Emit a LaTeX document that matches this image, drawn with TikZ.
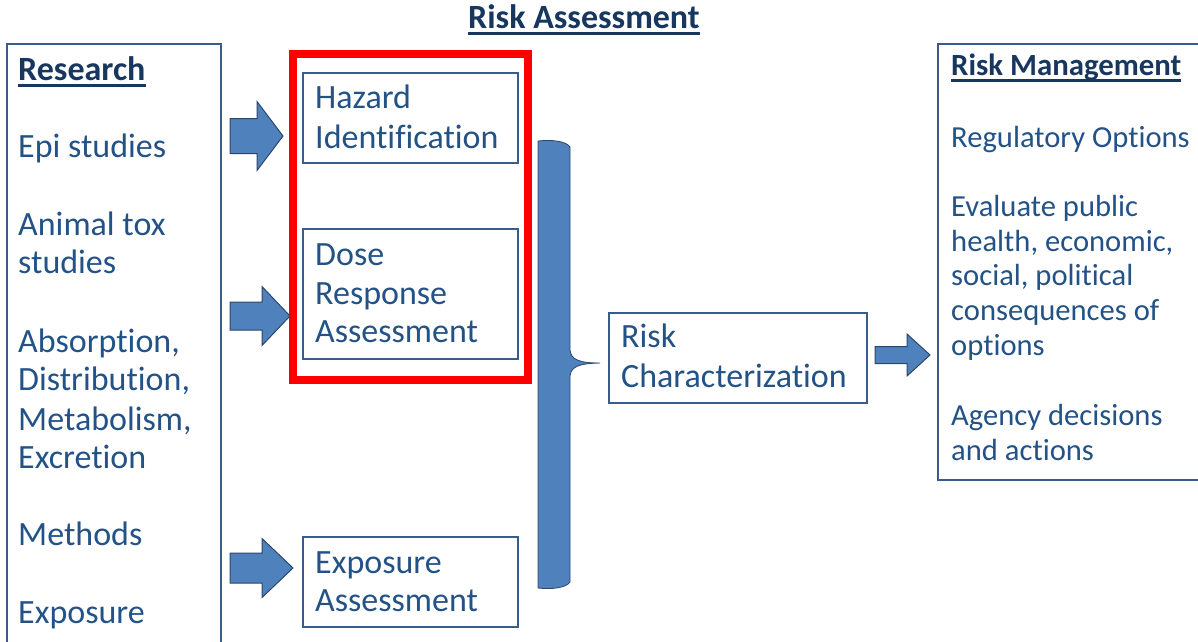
\documentclass[tikz,border=0pt]{standalone}
\usepackage{fontspec}
\setmainfont{Carlito}[Ligatures={NoCommon},RawFeature={-liga;-calt;-clig}]
\definecolor{bodytext}{RGB}{35,82,135}
\definecolor{headtext}{RGB}{23,55,94}
\definecolor{boxline}{RGB}{56,93,138}
\definecolor{arrfill}{RGB}{79,129,189}
\definecolor{arrline}{RGB}{44,70,105}
\definecolor{frame}{RGB}{255,0,0}
\newcommand{\ulhead}[1]{\setbox0\hbox{#1}\rlap{\rule[-6.5pt]{\wd0}{3pt}}\box0}
\newcommand{\blockarr}[6]{%
  \filldraw[blockarrow] (#1,#4-#5) -- (#2,#4-#5) -- (#2,#4-#6) -- (#3,#4) -- (#2,#4+#6) -- (#2,#4+#5) -- (#1,#4+#5) -- cycle;}
\tikzset{
  txt/.style={anchor=base west, inner sep=0pt, text=bodytext, font=\fontsize{34pt}{39pt}\selectfont},
  txtr/.style={anchor=base west, inner sep=0pt, text=bodytext, font=\fontsize{30.6pt}{35pt}\selectfont},
  headL/.style={anchor=base west, inner sep=0pt, text=headtext, font=\fontsize{34pt}{39pt}\selectfont\bfseries},
  headR/.style={anchor=base west, inner sep=0pt, text=headtext, font=\fontsize{30.8pt}{35pt}\selectfont\bfseries},
  stagebox/.style={draw=boxline, line width=1.5pt, rectangle, inner sep=0pt},
  blockarrow/.style={fill=arrfill, draw=arrline, line width=1pt, line join=miter},
}
\begin{document}
\begin{tikzpicture}[x=1pt,y=-1pt]
\useasboundingbox (0,0) rectangle (1198,641);

% title
\node[headL] (title) at (468,28.5) {\ulhead{Risk Assessment}};

% research column (open at the bottom)
\draw[boxline, line width=1.5pt] (7,642) -- (7,44) -- (221,44) -- (221,642);
\node[headL] (rhead) at (18,80.5) {\ulhead{Research}};
\node[txt] (r1) at (18,157.5) {Epi studies};
\node[txt] (r2a) at (18,235.5) {Animal tox};
\node[txt] (r2b) at (18,273.5) {studies};
\node[txt] (r3a) at (18,352.5) {Absorption,};
\node[txt] (r3b) at (18,390.5) {Distribution,};
\node[txt] (r3c) at (18,430) {Metabolism,};
\node[txt] (r3d) at (18,468.5) {Excretion};
\node[txt] (r4) at (18,545.5) {Methods};
\node[txt] (r5) at (18,623.5) {Exposure};

% red frame
\draw[frame, line width=8pt] (293,54) rectangle (528,380);

% stage boxes
\node[stagebox, minimum width=215pt, minimum height=90pt] (haz) at (410.5,118) {};
\node[txt] (haz1) at (315,108.5) {Hazard};
\node[txt] (haz2) at (315,148.5) {Identification};

\node[stagebox, minimum width=215pt, minimum height=130pt] (dose) at (410.5,294) {};
\node[txt] (dose1) at (315,265.5) {Dose};
\node[txt] (dose2) at (315,304) {Response};
\node[txt] (dose3) at (315,342.5) {Assessment};

\node[stagebox, minimum width=215pt, minimum height=90pt] (expo) at (410.5,582) {};
\node[txt] (expo1) at (315,573.5) {Exposure};
\node[txt] (expo2) at (315,611) {Assessment};

\node[stagebox, minimum width=258pt, minimum height=90pt] (rc) at (738,358) {};
\node[txt] (rc1) at (621,347.5) {Risk};
\node[txt] (rc2) at (621,387.5) {Characterization};

% brace
\filldraw[fill=arrfill, draw=arrline, line width=0.8pt]
  (538,141) .. controls (552,139.5) and (566,141) .. (570,147)
  -- (570,350) .. controls (571,360) and (580,363) .. (600,363)
  .. controls (580,363.5) and (571,366) .. (570,376)
  -- (570,582) .. controls (566,588) and (552,589.5) .. (538,588) -- cycle;

% block arrows
\blockarr{230}{257}{283}{136}{17.5}{34.5}
\blockarr{230}{262}{290}{316}{14}{29.5}
\blockarr{230}{262}{293}{568}{15}{29.5}
\blockarr{875}{907}{930}{355}{8.5}{21}

% risk management column (open at the right)
\draw[boxline, line width=1.5pt] (1199,44) -- (938,44) -- (938,480) -- (1199,480);
\node[headR] (mhead) at (951,75.5) {\ulhead{Risk Management}};
\node[txtr] (m1) at (951,147.5) {Regulatory Options};
\node[txtr] (m2a) at (951,216.5) {Evaluate public};
\node[txtr] (m2b) at (951,251.5) {health, economic,};
\node[txtr] (m2c) at (951,285.5) {social, political};
\node[txtr] (m2d) at (951,320.5) {consequences of};
\node[txtr] (m2e) at (951,355.5) {options};
\node[txtr] (m3a) at (951,425.5) {Agency decisions};
\node[txtr] (m3b) at (951,460.5) {and actions};
\end{tikzpicture}
\end{document}
